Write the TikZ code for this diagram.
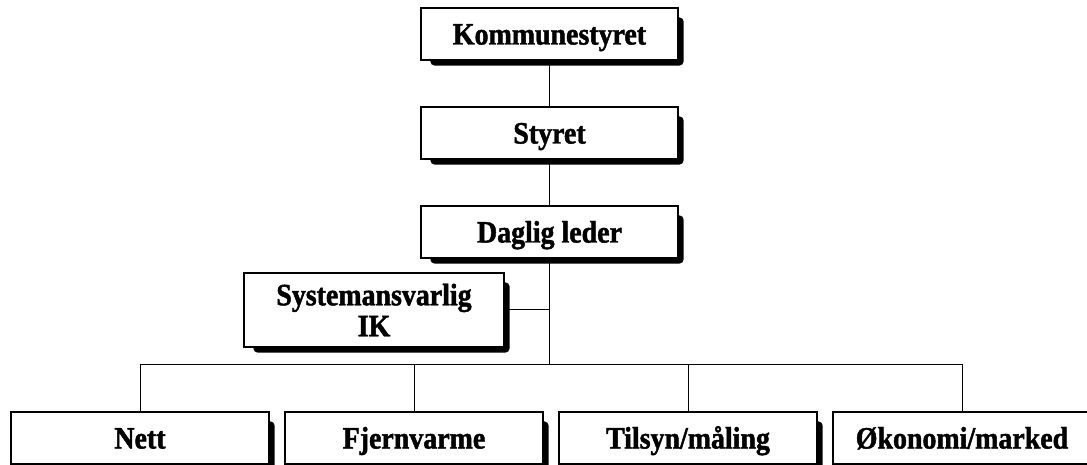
\documentclass[tikz,border=0pt]{standalone}
\usepackage{fontspec}
\setmainfont{Liberation Serif}[BoldFeatures={FakeBold=1.5,FakeStretch=0.9}]
\usetikzlibrary{calc,backgrounds}
\begin{document}
\begin{tikzpicture}[x=1pt,y=-1pt,
  orgbox/.style={draw=black,line width=1.1pt,fill=white,inner sep=0pt,
    minimum width=257pt,minimum height=52pt,align=center,
    font=\bfseries\fontsize{31}{31}\selectfont},
  oneline/.style={text height=21pt,text depth=0pt},
  link/.style={draw=black,line width=1pt},
  shade/.style={fill=black,rounded corners=4pt}]
\useasboundingbox (0,0) rectangle (1087,465);
\clip (0,0) rectangle (1087,465);
\node[orgbox,oneline] (k) at (549.5,34) {Kommunestyret};
\node[orgbox,oneline] (s) at (549.5,133) {Styret};
\node[orgbox,oneline] (d) at (549.5,232) {Daglig leder};
\node[orgbox,minimum width=260pt,minimum height=74pt] (ik) at (374,310) {Systemansvarlig\\IK};
\node[orgbox,oneline,minimum width=258pt] (n1) at (140,438) {Nett};
\node[orgbox,oneline,minimum width=258pt] (n2) at (414,438) {Fjernvarme};
\node[orgbox,oneline,minimum width=258pt] (n3) at (688,438) {Tilsyn/måling};
\node[orgbox,oneline,minimum width=258pt] (n4) at (962,438) {Økonomi/marked};
\begin{scope}[on background layer]
  \foreach \n in {k,s,d,ik,n1,n2,n3,n4}{
    \fill[shade] ($(\n.north west)+(10,10)$) rectangle ($(\n.south east)+(5,5)$);
  }
  \coordinate (bus) at (549.5,364);
  \coordinate (ikj) at (549.5,309);
  \draw[link] (k.south) -- (s.north);
  \draw[link] (s.south) -- (d.north);
  \draw[link] (d.south) -- (bus);
  \draw[link] (ik.east |- ikj) -- (ikj);
  \draw[link] (n1.north) -- (n1.north |- bus) -- (n4.north |- bus) -- (n4.north);
  \draw[link] (n2.north) -- (n2.north |- bus);
  \draw[link] (n3.north) -- (n3.north |- bus);
\end{scope}
\end{tikzpicture}
\end{document}
